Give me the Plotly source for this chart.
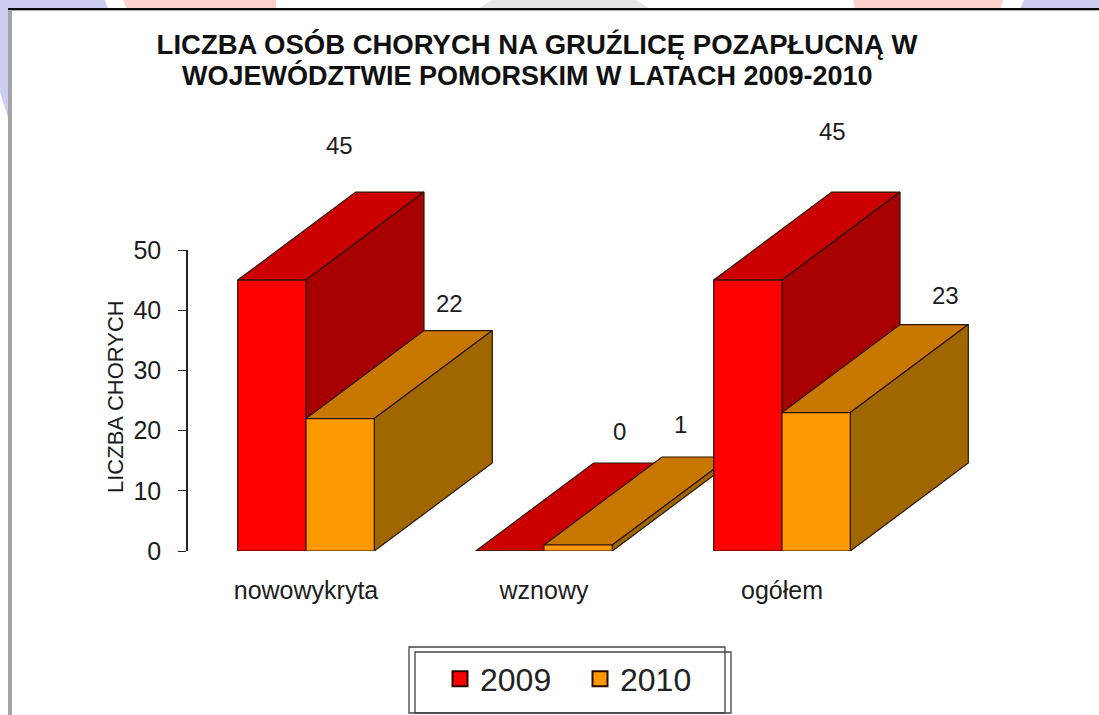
import plotly.graph_objects as go

categories = ["nowowykryta", "wznowy", "ogółem"]
values_2009 = [45, 0, 45]
values_2010 = [22, 1, 23]
y_ticks = [0, 10, 20, 30, 40, 50]
title_line_1 = "LICZBA OSÓB CHORYCH NA GRUŹLICĘ POZAPŁUCNĄ W"
title_line_2 = "WOJEWÓDZTWIE POMORSKIM W LATACH 2009-2010"
y_title = "LICZBA CHORYCH"

W, H = 1099, 715
L, R, T, B = 188, 1000, 100, 551   # drawing area, tall enough for the 3D depth
AXIS_TOP = 250                     # pixel row of the value 50
PX_PER_CAT = 238.0
PX_PER_UNIT = (B - AXIS_TOP) / 50.0
x_lo = (L - 306) / PX_PER_CAT
x_hi = (R - 306) / PX_PER_CAT
bar_w = 68.3 / PX_PER_CAT
dx = 118 / PX_PER_CAT
dy = 88 / PX_PER_UNIT
INK = "#2b1408"
TXT = "#1c1c1c"
FONT = "Liberation Sans"

series = [
    ("2009", values_2009, "#ff0000", "#cc0000", "#a80000"),
    ("2010", values_2010, "#ff9900", "#c87800", "#a06600"),
]

fig = go.Figure()


def face(xs, ys, color):
    fig.add_trace(go.Scatter(
        x=xs + xs[:1], y=ys + ys[:1], mode="lines", fill="toself", fillcolor=color, yaxis="y2",
        line=dict(color=INK, width=1.2), showlegend=False, hoverinfo="skip",
    ))


for i in range(len(categories)):
    for j, (name, vals, front, top, side) in enumerate(series):
        v = vals[i]
        x0 = i - bar_w + j * bar_w
        x1 = x0 + bar_w
        face([x0, x1, x1 + dx, x0 + dx], [v, v, v + dy, v + dy], top)
        face([x1, x1 + dx, x1 + dx, x1], [0, dy, v + dy, v], side)
        face([x0, x1, x1, x0], [0, 0, v, v], front)

for name, vals, front, top, side in series:
    fig.add_trace(go.Scatter(
        x=[None], y=[None], mode="markers", name=name,
        marker=dict(symbol="square", size=15, color=front, line=dict(color="#2a0a00", width=2)),
    ))

# hand-placed data labels: pixel offsets from the centre of each bar's front top edge
label_shift_x = {(0, 0): 68, (0, 1): 109, (1, 0): 110, (1, 1): 102, (2, 0): 85, (2, 1): 129}
label_px_y = {(0, 0): 145, (0, 1): 303, (1, 0): 431, (1, 1): 424, (2, 0): 131, (2, 1): 295}
annotations = []
for i in range(len(categories)):
    for j, (name, vals, *_rest) in enumerate(series):
        v = vals[i]
        xc = i - bar_w / 2 + j * bar_w
        y_at = B - v * PX_PER_UNIT
        annotations.append(dict(
            x=xc, y=v, xref="x", yref="y2", text=str(v), showarrow=False,
            xanchor="center", yanchor="middle", xshift=label_shift_x[(i, j)],
            yshift=y_at - label_px_y[(i, j)],
            font=dict(family=FONT, size=24, color=TXT),
        ))


def px(x):
    return (x - L) / (R - L)


def py(y):
    return (B - y) / (B - T)


annotations.append(dict(
    x=px(527), y=py(75), xref="paper", yref="paper", text=title_line_2, showarrow=False,
    xanchor="center", yanchor="middle", font=dict(family=FONT, size=27, color="#111111", weight="bold"),
))
annotations.append(dict(
    x=px(116), y=py(397), xref="paper", yref="paper", text=y_title, showarrow=False, textangle=-90,
    xanchor="center", yanchor="middle", font=dict(family=FONT, size=22, color=TXT),
))


def poly(points, color):
    path = "M " + " L ".join(f"{px(a):.5f},{py(b):.5f}" for a, b in points) + " Z"
    return dict(type="path", xref="paper", yref="paper", path=path, fillcolor=color,
                line=dict(width=0), layer="below")


def frame(x0, y0, x1, y1):
    return dict(type="rect", xref="paper", yref="paper", x0=px(x0), x1=px(x1), y0=py(y0), y1=py(y1),
                line=dict(color="#444444", width=1.3), fillcolor="rgba(0,0,0,0)", layer="below")


shapes = [
    poly([(0, 0), (105, 0), (108, 9), (0, 9)], "#cdcdee"),
    poly([(0, 9), (8, 9), (8, 118), (0, 92)], "#cdcdee"),
    poly([(123, 0), (276, 0), (276, 9), (127, 9)], "#ffcfcb"),
    poly([(853, 0), (1003, 0), (1000, 9), (855, 9)], "#ffcfcb"),
    poly([(1024, 0), (1099, 0), (1099, 9), (1020, 9)], "#cdcdee"),
    poly([(478, 9), (492, 0), (636, 0), (650, 9)], "#e6e6e6"),
    poly([(8, 9), (12, 9), (12, 715), (8, 715)], "#a4a4a8"),
    poly([(8, 8), (1099, 8), (1099, 10), (8, 10)], "#0a0a0a"),
    poly([(8, 10), (1099, 10), (1099, 11), (8, 11)], "#b0b0b0"),
    frame(409, 647, 725, 713),
    frame(415, 652, 731, 713),
]

fig.update_layout(
    width=W, height=H, autosize=False,
    margin=dict(l=L, r=W - R, t=T, b=H - B, pad=0, autoexpand=False),
    paper_bgcolor="white", plot_bgcolor="rgba(0,0,0,0)",
    font=dict(family=FONT, color=TXT),
    title=dict(
        text=title_line_1, x=537 / W, xanchor="center", xref="container",
        y=1 - 44 / H, yanchor="middle",
        font=dict(family=FONT, size=27.5, color="#111111", weight="bold"),
    ),
    xaxis=dict(
        range=[x_lo, x_hi], tickmode="array", tickvals=list(range(len(categories))), ticktext=categories,
        showgrid=False, zeroline=False, showline=False, ticks="", ticklabelstandoff=22,
        tickfont=dict(family=FONT, size=25, color=TXT),
    ),
    yaxis=dict(
        domain=[0, (B - AXIS_TOP) / (B - T)],
        range=[0, 50], tickmode="array", tickvals=y_ticks, showgrid=False, zeroline=False,
        showline=True, linecolor="#222222", linewidth=1.5, ticks="outside", ticklen=8,
        tickcolor="#222222", tickwidth=1.2, ticklabelstandoff=12,
        tickfont=dict(family=FONT, size=25, color=TXT),
    ),
    yaxis2=dict(
        domain=[0, 1], anchor="x", range=[0, (B - T) / PX_PER_UNIT],
        visible=False, showgrid=False, zeroline=False,
    ),
    legend=dict(
        orientation="h", x=px(440), xanchor="left", y=py(679), yanchor="middle",
        font=dict(family=FONT, size=32, color="#222222"), bgcolor="rgba(0,0,0,0)", borderwidth=0,
        entrywidth=95, entrywidthmode="pixels",
    ),
    annotations=annotations,
    shapes=shapes,
)

fig.write_html("out.html", post_script="document.body.style.margin='0';",
               config={"displayModeBar": False})
